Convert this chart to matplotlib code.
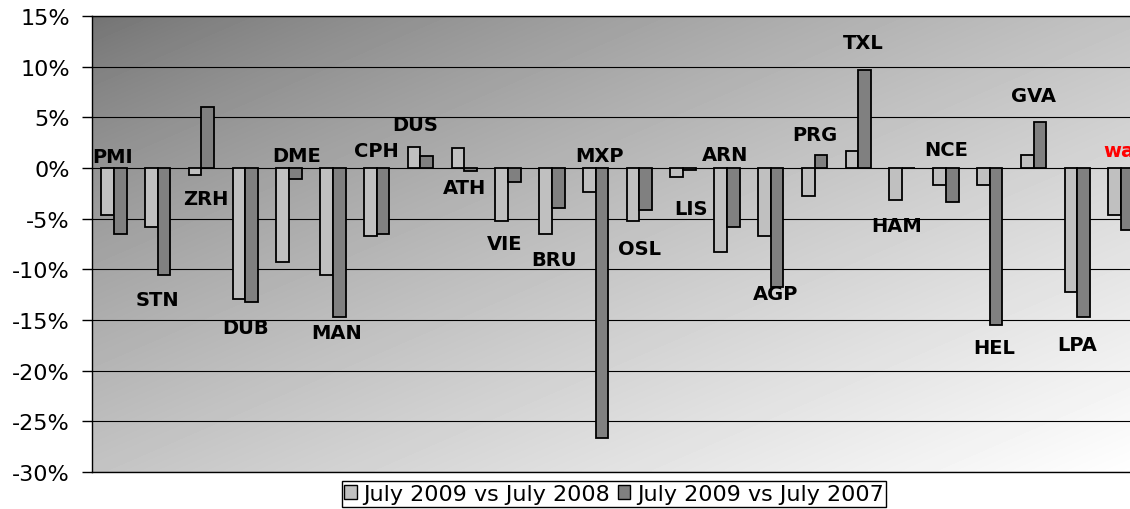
import numpy as np
import matplotlib.pyplot as plt
from matplotlib.patches import Patch

# airports and the two change series (in %)
airports = ['PMI', 'STN', 'ZRH', 'DUB', 'DME', 'MAN', 'CPH', 'DUS', 'ATH', 'VIE',
            'BRU', 'MXP', 'OSL', 'LIS', 'ARN', 'AGP', 'PRG', 'TXL', 'HAM', 'NCE',
            'HEL', 'GVA', 'LPA', 'wavg']
vs2008 = [-4.6, -5.8, -0.7, -12.9, -9.3, -10.6, -6.7, 2.05, 2.0, -5.2,
          -6.5, -2.4, -5.2, -0.9, -8.3, -6.7, -2.8, 1.7, -3.2, -1.7,
          -1.7, 1.3, -12.2, -4.6]
vs2007 = [-6.5, -10.6, 6.0, -13.2, -1.1, -14.7, -6.5, 1.2, -0.3, -1.4,
          -3.9, -26.6, -4.1, -0.2, -5.8, -11.7, 1.3, 9.7, 0.0, -3.4,
          -15.5, 4.5, -14.7, -6.1]
# label placement: x offset from group centre, y in %
label_dx = [-0.04, 0, 0.09, 0, 0.17, 0.09, 0, -0.12, 0, -0.07,
            0.05, 0.09, 0, 0.17, -0.04, 0.1, 0, 0.12, -0.12, 0,
            0.1, 0, 0, -0.41]
label_y = [1.1, -13.0, -3.05, -15.7, 1.26, -16.2, 1.75, 4.25, -1.9, -7.5,
           -9.0, 1.26, -7.95, -3.97, 1.37, -12.4, 3.27, 12.4, -5.64, 1.85,
           -17.7, 7.2, -17.45, 1.74]

fig = plt.figure(figsize=(11.3, 5.1), dpi=100)
ax = fig.add_axes([92/1130, 1-473/510, (1143-92)/1130, (473-17)/510])

# diagonal gradient background, dark top-left to white bottom-right
u = np.linspace(0, 1, 300)
v = np.linspace(0, 1, 150)
U, V = np.meshgrid(u, v)
grad = 0.45 + 0.55*((U + V)/2)**0.8
ax.imshow(grad, cmap='gray', vmin=0, vmax=1, extent=[0, 1, 0, 1],
          transform=ax.transAxes, aspect='auto', zorder=0, interpolation='bilinear')

x = np.arange(len(airports))
w = 0.29
ax.bar(x - w/2, vs2008, w, color='#c0c0c0', edgecolor='black', linewidth=1.3, zorder=3,
       label='July 2009 vs July 2008')
ax.bar(x + w/2, vs2007, w, color='#808080', edgecolor='black', linewidth=1.3, zorder=3,
       label='July 2009 vs July 2007')

for i, name in enumerate(airports):
    if name == 'wavg':
        ax.text(i + label_dx[i], label_y[i], name, color='red', fontsize=14,
                fontweight='bold', ha='left', va='center', zorder=4)
    else:
        ax.text(i + label_dx[i], label_y[i], name, color='black', fontsize=14,
                fontweight='bold', ha='center', va='center', zorder=4)

ax.set_xlim(-0.5, len(airports) - 0.5)
ax.set_ylim(-30, 15)
yt = np.arange(-30, 16, 5)
ax.set_yticks(yt)
ax.set_yticklabels([f'{t}%' for t in yt], fontsize=16)
ax.set_xticks([])
ax.tick_params(axis='y', length=7, width=1, pad=9, direction='out')
for t in yt:
    ax.axhline(t, color='black', linewidth=0.8, zorder=1)
ax.spines['right'].set_visible(False)
for s in ['left', 'top', 'bottom']:
    ax.spines[s].set_color('black')
    ax.spines[s].set_linewidth(1.0)

leg = fig.legend(handles=[Patch(facecolor='#c0c0c0', edgecolor='black', label='July 2009 vs July 2008'),
                          Patch(facecolor='#808080', edgecolor='black', label='July 2009 vs July 2007')],
                 loc='center', bbox_to_anchor=(614/1130, 1-495/510), ncol=2, fontsize=16,
                 frameon=True, fancybox=False, edgecolor='black', framealpha=1,
                 handlelength=0.55, handleheight=0.55, handletextpad=0.3, columnspacing=0.35,
                 borderpad=0.12, borderaxespad=0)
leg.get_frame().set_linewidth(1.0)

fig.savefig('out.png', dpi=100)
